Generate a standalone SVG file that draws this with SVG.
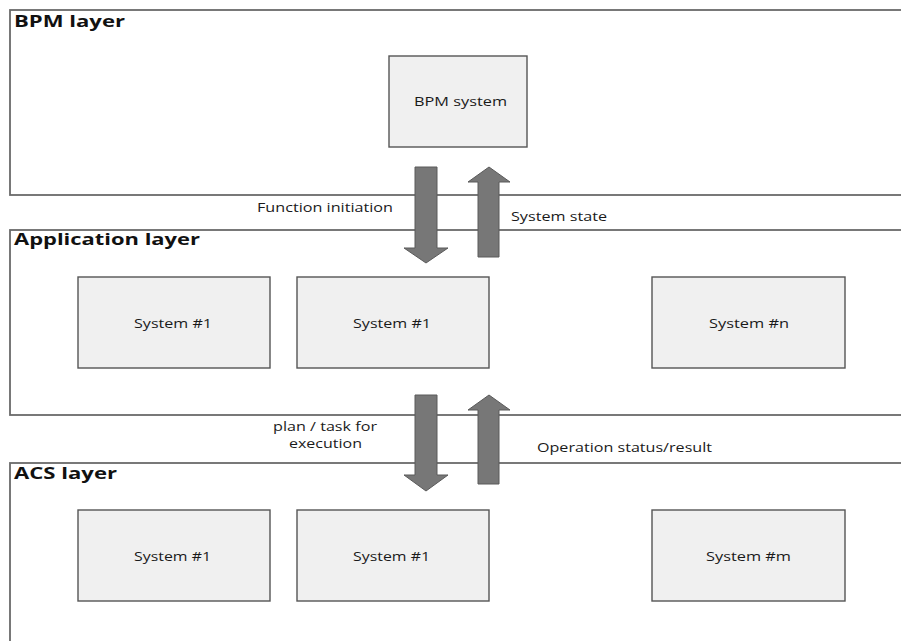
<svg xmlns="http://www.w3.org/2000/svg" width="901" height="641" viewBox="0 0 901 641">
  <style>
    .layer { fill: #ffffff; stroke: #6a6a6a; stroke-width: 1.8; }
    .title { font-family: "Open Sans", "DejaVu Sans", sans-serif; font-weight: bold; font-size: 16.5px; fill: #111; }
    .sys { fill: #f0f0f0; stroke: #555; stroke-width: 1.4; }
    .label { font-family: "Open Sans", "DejaVu Sans", sans-serif; font-size: 12.5px; fill: #1a1a1a; }
    .small { font-size: 12px; }
    .arrow { fill: #777; stroke: #5a5a5a; stroke-width: 1; }
  </style>
  <rect width="901" height="641" fill="#ffffff"/>

  <!-- layers -->
  <g id="bpm-layer">
    <rect class="layer" x="10" y="10" width="900" height="185"/>
    <text class="title" x="14" y="27" textLength="111" lengthAdjust="spacingAndGlyphs">BPM layer</text>
  </g>
  <g id="application-layer">
    <rect class="layer" x="10" y="230" width="900" height="185"/>
    <text class="title" x="14" y="245" textLength="186" lengthAdjust="spacingAndGlyphs">Application layer</text>
  </g>
  <g id="acs-layer">
    <rect class="layer" x="10" y="463" width="900" height="190"/>
    <text class="title" x="14" y="479" textLength="103" lengthAdjust="spacingAndGlyphs">ACS layer</text>
  </g>

  <!-- systems -->
  <g id="bpm-system">
    <rect class="sys" x="389" y="56" width="138" height="91"/>
    <text class="label" x="414" y="106" textLength="93" lengthAdjust="spacingAndGlyphs">BPM system</text>
  </g>
  <g id="app-system-1a">
    <rect class="sys" x="78" y="277" width="192" height="91"/>
    <text class="label" x="134" y="328" textLength="78" lengthAdjust="spacingAndGlyphs">System #1</text>
  </g>
  <g id="app-system-1b">
    <rect class="sys" x="297" y="277" width="192" height="91"/>
    <text class="label" x="353" y="328" textLength="78" lengthAdjust="spacingAndGlyphs">System #1</text>
  </g>
  <g id="app-system-n">
    <rect class="sys" x="652" y="277" width="193" height="91"/>
    <text class="label" x="709" y="328" textLength="80" lengthAdjust="spacingAndGlyphs">System #n</text>
  </g>
  <g id="acs-system-1a">
    <rect class="sys" x="78" y="510" width="192" height="91"/>
    <text class="label" x="134" y="561" textLength="77" lengthAdjust="spacingAndGlyphs">System #1</text>
  </g>
  <g id="acs-system-1b">
    <rect class="sys" x="297" y="510" width="192" height="91"/>
    <text class="label" x="353" y="561" textLength="77" lengthAdjust="spacingAndGlyphs">System #1</text>
  </g>
  <g id="acs-system-m">
    <rect class="sys" x="652" y="510" width="193" height="91"/>
    <text class="label" x="706" y="561" textLength="85" lengthAdjust="spacingAndGlyphs">System #m</text>
  </g>

  <!-- connectors: block arrows between layers -->
  <g id="connectors">
    <polygon class="arrow" points="415,167 437,167 437,248 448,248 426,263 404,248 415,248"/>
    <polygon class="arrow" points="489,167 510,182 499,182 499,257 478,257 478,182 468,182"/>
    <polygon class="arrow" points="415,395 437,395 437,475 448,475 426,491 404,475 415,475"/>
    <polygon class="arrow" points="489,395 510,410 499,410 499,484 478,484 478,410 468,410"/>
    <text class="label" x="257" y="212" textLength="136" lengthAdjust="spacingAndGlyphs">Function initiation</text>
    <text class="label" x="511" y="221" textLength="96" lengthAdjust="spacingAndGlyphs">System state</text>
    <text class="label small" x="273" y="431" textLength="104" lengthAdjust="spacingAndGlyphs">plan / task for</text>
    <text class="label small" x="289" y="448" textLength="73" lengthAdjust="spacingAndGlyphs">execution</text>
    <text class="label" x="537" y="452" textLength="175" lengthAdjust="spacingAndGlyphs">Operation status/result</text>
  </g>
</svg>
